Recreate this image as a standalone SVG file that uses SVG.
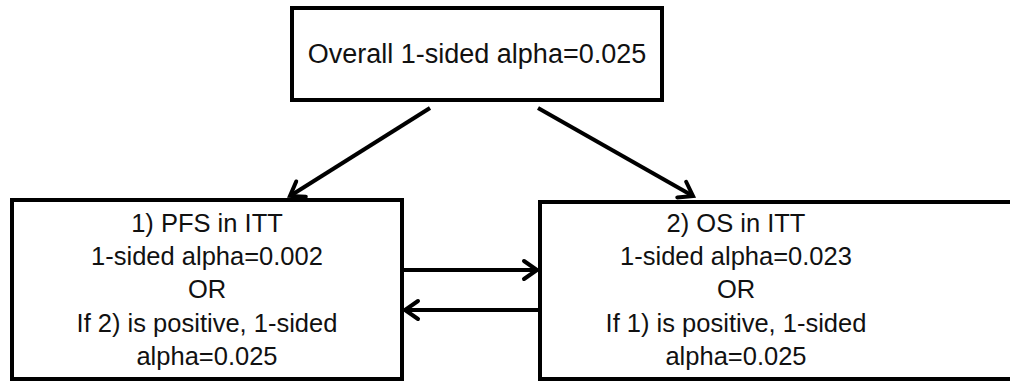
<svg xmlns="http://www.w3.org/2000/svg" width="1010" height="381" viewBox="0 0 1010 381">
  <style>
    .box { fill: #fff; stroke: #000; stroke-width: 4; }
    .lbl { font-family: "Liberation Sans", Arial, sans-serif; fill: #111; text-anchor: middle; }
    .top { font-size: 27px; }
    .sub { font-size: 25.5px; }
    .conn { stroke: #000; stroke-width: 4; fill: none; }
  </style>
  <defs>
    <marker id="arrow" markerUnits="userSpaceOnUse" markerWidth="30" markerHeight="30" refX="17" refY="12" orient="auto">
      <path d="M4,3 L17,12 L4,21" fill="none" stroke="#000" stroke-width="4" stroke-linecap="round" stroke-linejoin="miter"/>
    </marker>
  </defs>
  <rect width="1010" height="381" fill="#fff"/>

  <g id="overall">
    <rect class="box" x="292" y="8" width="370" height="92"/>
    <text class="lbl top" x="477" y="63">Overall 1-sided alpha=0.025</text>
  </g>

  <g id="pfs">
    <rect class="box" x="12" y="200" width="390" height="179"/>
    <text class="lbl sub" x="207" y="232">1) PFS in ITT</text>
    <text class="lbl sub" x="207" y="265">1-sided alpha=0.002</text>
    <text class="lbl sub" x="207" y="298">OR</text>
    <text class="lbl sub" x="207" y="332">If 2) is positive, 1-sided</text>
    <text class="lbl sub" x="207" y="365">alpha=0.025</text>
  </g>

  <g id="os">
    <rect class="box" x="540" y="202" width="480" height="177"/>
    <text class="lbl sub" x="736" y="232">2) OS in ITT</text>
    <text class="lbl sub" x="736" y="265">1-sided alpha=0.023</text>
    <text class="lbl sub" x="736" y="298">OR</text>
    <text class="lbl sub" x="736" y="332">If 1) is positive, 1-sided</text>
    <text class="lbl sub" x="736" y="365">alpha=0.025</text>
  </g>

  <g id="connectors">
    <line class="conn" x1="430" y1="108" x2="290" y2="196" marker-end="url(#arrow)"/>
    <line class="conn" x1="538" y1="108" x2="693" y2="196" marker-end="url(#arrow)"/>
    <line class="conn" x1="404" y1="270" x2="537" y2="270" marker-end="url(#arrow)"/>
    <line class="conn" x1="538" y1="310" x2="405" y2="310" marker-end="url(#arrow)"/>
  </g>
</svg>
